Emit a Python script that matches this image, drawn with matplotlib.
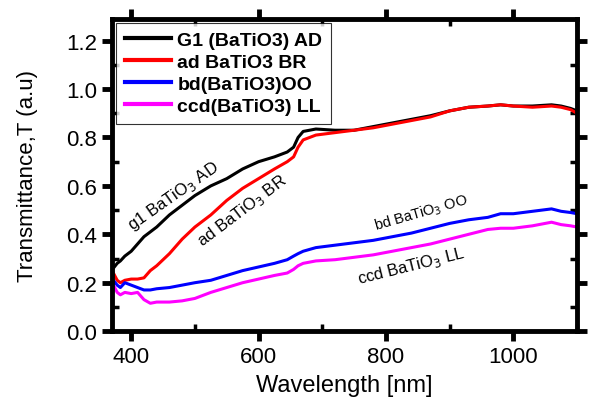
import numpy as np
import matplotlib.pyplot as plt
from matplotlib.ticker import MultipleLocator

plt.rcParams['font.family'] = ['Liberation Sans', 'DejaVu Sans']

wl = [372, 378, 383, 390, 400, 410, 420, 430, 440, 460, 480, 500, 525, 550, 575,
      600, 625, 645, 655, 662, 670, 690, 720, 750, 780, 810, 840, 870, 900, 930,
      960, 980, 1000, 1030, 1060, 1075, 1090, 1100]

g1 = [0.26, 0.28, 0.29, 0.31, 0.33, 0.36, 0.39, 0.41, 0.43, 0.48, 0.52, 0.56, 0.60,
      0.63, 0.67, 0.70, 0.72, 0.74, 0.76, 0.80, 0.825, 0.835, 0.83, 0.83, 0.845,
      0.86, 0.875, 0.89, 0.91, 0.925, 0.93, 0.935, 0.93, 0.93, 0.935, 0.93, 0.92, 0.91]

ad = [0.24, 0.21, 0.20, 0.21, 0.215, 0.215, 0.22, 0.25, 0.27, 0.32, 0.38, 0.43, 0.48,
      0.54, 0.59, 0.63, 0.67, 0.70, 0.72, 0.76, 0.79, 0.81, 0.82, 0.83, 0.84, 0.855,
      0.87, 0.885, 0.91, 0.925, 0.93, 0.935, 0.93, 0.925, 0.93, 0.925, 0.915, 0.90]

bd = [0.21, 0.19, 0.18, 0.20, 0.19, 0.18, 0.17, 0.17, 0.175, 0.18, 0.19, 0.20, 0.21,
      0.23, 0.25, 0.265, 0.28, 0.295, 0.31, 0.32, 0.33, 0.345, 0.355, 0.365, 0.375,
      0.39, 0.405, 0.425, 0.445, 0.46, 0.47, 0.485, 0.485, 0.495, 0.505, 0.495, 0.49, 0.485]

ccd = [0.19, 0.16, 0.15, 0.16, 0.155, 0.16, 0.13, 0.115, 0.12, 0.12, 0.125, 0.135,
       0.16, 0.18, 0.20, 0.215, 0.23, 0.24, 0.255, 0.27, 0.28, 0.29, 0.295, 0.305,
       0.315, 0.33, 0.345, 0.36, 0.38, 0.40, 0.42, 0.425, 0.425, 0.435, 0.45, 0.44,
       0.435, 0.43]

fig = plt.figure(figsize=(5.9, 4.06), dpi=100)
ax = fig.add_axes([0.19, 0.182, 0.788, 0.769])

ax.plot(wl, g1, color='black', lw=2.2, label='G1 (BaTiO3) AD')
ax.plot(wl, ad, color='red', lw=2.2, label='ad BaTiO3 BR')
ax.plot(wl, bd, color='blue', lw=2.2, label='bd(BaTiO3)OO')
ax.plot(wl, ccd, color='magenta', lw=2.2, label='ccd(BaTiO3) LL')

ax.set_xlim(370, 1100)
ax.set_ylim(0, 1.29)
ax.xaxis.set_major_locator(MultipleLocator(200))
ax.xaxis.set_minor_locator(MultipleLocator(100))
ax.yaxis.set_major_locator(MultipleLocator(0.2))
ax.yaxis.set_minor_locator(MultipleLocator(0.1))
ax.yaxis.set_major_formatter(plt.FormatStrFormatter('%.1f'))

for s in ax.spines.values():
    s.set_linewidth(3.5)
ax.tick_params(which='major', direction='out', length=7, width=3.5,
               top=True, right=True, labelsize=16, pad=4)
ax.tick_params(which='minor', direction='in', length=5, width=2.5,
               top=True, right=True)

ax.set_xlabel('Wavelength [nm]', fontsize=17, labelpad=5)
ax.set_ylabel('Transmittance,T (a.u)', fontsize=16, labelpad=20)

leg = ax.legend(loc='upper left', prop={'weight': 'bold', 'size': 14},
                frameon=True, fancybox=False, edgecolor='black', borderpad=0.45,
                handlelength=2.4, labelspacing=0.22, borderaxespad=0.2,
                handletextpad=0.3)
leg.get_frame().set_linewidth(0.8)
for ln in leg.get_lines():
    ln.set_linewidth(3)

ax.text(466, 0.56, 'g1 BaTiO$_3$ AD', rotation=35, fontsize=12, ha='center', va='center')
ax.text(574, 0.50, 'ad BaTiO$_3$ BR', rotation=37, fontsize=12, ha='center', va='center')
ax.text(856, 0.49, 'bd BaTiO$_3$ OO', rotation=16, fontsize=10.5, ha='center', va='center')
ax.text(840, 0.27, 'ccd BaTiO$_3$ LL', rotation=14, fontsize=12, ha='center', va='center')

fig.savefig('out.png', dpi=100)
